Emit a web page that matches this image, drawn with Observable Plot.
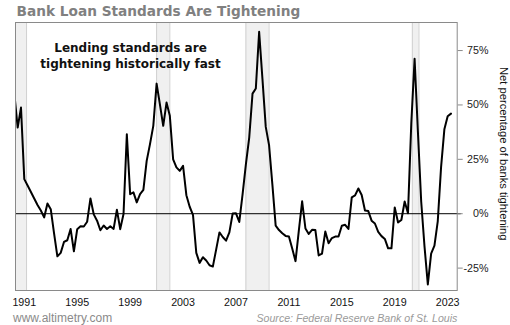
<!DOCTYPE html>
<html><head><meta charset="utf-8">
<script src="https://cdn.jsdelivr.net/npm/d3@7"></script>
<script src="https://cdn.jsdelivr.net/npm/@observablehq/plot@0.6"></script>
<style>
body{margin:0;background:#fff;}
#wrap{position:relative;width:510px;height:325px;overflow:hidden;background:#fff;}
#title{position:absolute;left:16.5px;top:1px;font:bold 13.7px "DejaVu Sans";line-height:20px;color:#808080;white-space:nowrap;}
#site{position:absolute;left:13px;top:310.5px;font:12px "Liberation Sans";line-height:14px;color:#8a8a8a;white-space:nowrap;}
#src{position:absolute;right:52.7px;top:310.8px;font:italic 10.6px "Liberation Sans";line-height:14px;color:#9a9a9a;white-space:nowrap;}
#ylab{position:absolute;left:497px;top:66.7px;writing-mode:vertical-rl;font:11.2px "Liberation Sans";line-height:14px;color:#111;white-space:nowrap;}
#chart{position:absolute;left:0;top:0;}
</style></head>
<body>
<div id="wrap">
  <div id="chart"></div>
  <div id="title">Bank Loan Standards Are Tightening</div>
  <div id="ylab"></div>
  <div id="site">www.altimetry.com</div>
  <div id="src">Source: Federal Reserve Bank of St. Louis</div>
</div>
<script>
// Quarterly net percentage of banks tightening (first quarter: 1990 Q2)
const firstQuarter = 1990.25;
const tightening = [
  55, 39.6, 48.8, 15.9, 13, 10, 7, 4, 1.5, -1.7,
  4.7, 2.1, -9, -19.6, -18, -13, -12.2, -7, -17.3, -7.1,
  -5.8, -5.9, -3.7, 7, -0.3, -3.2, -7.6, -5.4, -7, -5.8,
  -7, 1.8, -7.1, -0.1, 36.5, 9, 9.8, 5.2, 9, 11,
  24.3, 32, 40.4, 59.8, 50.3, 40.4, 51.1, 45, 25, 21.3,
  19.7, 22, 8.5, 3.2, -0.5, -18, -22.6, -20, -21.5, -23.7,
  -24.3, -16.5, -8.6, -10.7, -12.4, -8.6, 0.1, 0.2, -3.8, 9,
  22.8, 35, 55.2, 57.6, 83.6, 62, 39.9, 31.5, 13.5, -5.5,
  -7.5, -9, -10.2, -10.5, -16, -21.8, -7.8, 5.7, -6.8, -9.3,
  -7.4, -7.5, -19.2, -18.4, -8.2, -13.6, -11.2, -10.5, -10.5, -5.5,
  -5.1, -7, 7.5, 8.4, 11.6, 8.6, 1.5, 1.2, -3.2, -4.5,
  -8.4, -10.3, -11.6, -15.9, -15.9, 2.9, -4, -2.9, 5.6, 0.2,
  41.6, 71.2, 37.7, 5.5, -15.1, -32.5, -18.3, -14.7, -3.5, 21.3,
  38.8, 44.8, 46
];
// Recession shading (decimal years)
const recessionStart = [1990.25, 2001.0, 2007.75, 2020.33];
const recessionEnd   = [1991.17, 2002.0, 2009.5, 2020.83];
const xTicks = [1991, 1995, 1999, 2003, 2007, 2011, 2015, 2019, 2023];
const yTicks = [-25, 0, 25, 50, 75];
const yLabel = "Net percentage of banks tightening";
const note = "Lending standards are\ntightening historically fast";

document.getElementById("ylab").textContent = yLabel;

const data = tightening.map((v, i) => ({t: firstQuarter + i / 4, v}));
const recessions = recessionStart.map((s, i) => ({start: s, end: recessionEnd[i]}));
const edges = recessionStart.concat(recessionEnd);

const chart = Plot.plot({
  width: 510, height: 325,
  marginLeft: 15, marginRight: 53.3, marginTop: 22, marginBottom: 35,
  style: {background: "transparent", fontFamily: "Liberation Sans", fontSize: "10.7px", color: "#111"},
  x: {type: "linear", domain: [1990.335, 2023.72]},
  y: {domain: [-35.3, 87.9]},
  marks: [
    Plot.rect(recessions, {x1: "start", x2: "end", fill: "#f0f0f0", clip: true}),
    Plot.ruleX(edges, {x: d => d, stroke: "#d0d0d0", strokeWidth: 1, clip: true}),
    Plot.ruleY([0], {stroke: "black", strokeWidth: 1, insetRight: -4}),
    Plot.line(data, {x: "t", y: "v", stroke: "black", strokeWidth: 2, clip: true}),
    Plot.frame({stroke: "#8a8a8a"}),
    Plot.axisX({ticks: xTicks, tickFormat: d => String(d), tickSize: 0, tickPadding: 8, fill: "#111", fontSize: 10.7}),
    Plot.axisY({anchor: "right", ticks: yTicks, tickFormat: d => d + "%", tickSize: 5, tickPadding: 26.3,
      textAnchor: "end", stroke: "#8a8a8a", fill: "#222", fontSize: 10.7, label: null}),
    Plot.text([note], {text: d => d, frameAnchor: "top-left", textAnchor: "middle", dx: 115, dy: 18.7, lineAnchor: "top",
      lineHeight: 1.29, fontSize: 12, fontWeight: "bold", fontFamily: "DejaVu Sans", fill: "#111"})
  ]
});
document.getElementById("chart").appendChild(chart);
</script>
</body></html>
